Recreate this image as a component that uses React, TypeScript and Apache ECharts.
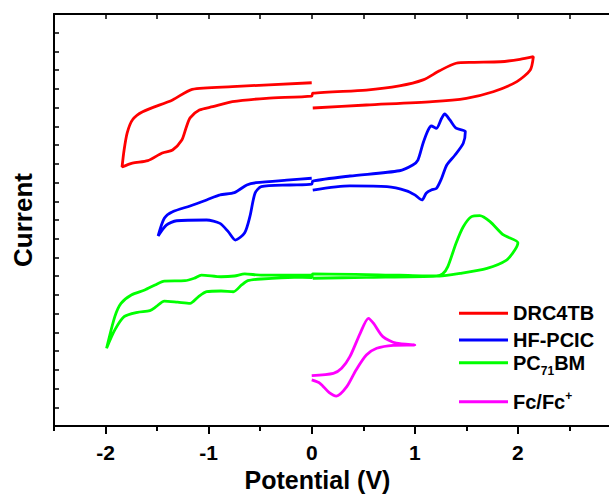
import React, { useEffect, useRef } from "react";
import * as echarts from "echarts";

// Potential (V) vs current (arbitrary units, in y-tick steps; curves are offset)
const xTickLabels = [-2, -1, 0, 1, 2];
const seriesNames = ["DRC4TB", "HF-PCIC", "PC71BM", "Fc/Fc+"];
const seriesColors = ["#ff0000", "#0000ff", "#00ff00", "#ff00ff"];

const drc4tb: [number, number][] = [
  [0.01, 16.98], [0.53, 17.14], [1.17, 17.32], [1.5, 17.5], [1.76, 17.85], [1.99, 18.39],
  [2.12, 19.01], [2.15, 19.72], [2.02, 19.58], [1.83, 19.45], [1.56, 19.42], [1.4, 19.37],
  [1.24, 18.97], [1.08, 18.48], [0.85, 18.16], [0.53, 17.94], [0.01, 17.77],
  [0.0, 17.62], [-0.44, 17.5], [-0.77, 17.32], [-0.96, 17.05], [-1.09, 16.87], [-1.18, 16.45],
  [-1.22, 15.9], [-1.26, 15.27], [-1.35, 14.74], [-1.45, 14.58], [-1.59, 14.17], [-1.74, 14.04],
  [-1.84, 13.83], [-1.82, 14.74], [-1.79, 15.65], [-1.74, 16.34], [-1.64, 16.78], [-1.35, 17.41],
  [-1.16, 17.98], [-0.77, 18.12], [0.0, 18.33],
];

const hfpcic: [number, number][] = [
  [0.01, 12.6], [0.37, 12.82], [0.73, 12.78], [0.92, 12.56], [1.0, 12.34], [1.07, 12.07],
  [1.11, 12.43], [1.16, 12.6], [1.21, 12.69], [1.26, 13.23], [1.31, 13.94], [1.39, 14.47],
  [1.47, 15.1], [1.49, 15.72], [1.4, 15.9], [1.34, 16.34], [1.29, 16.66], [1.26, 16.43],
  [1.21, 15.9], [1.16, 16.02], [1.13, 15.81], [1.08, 15.1], [1.03, 14.2], [0.98, 13.94],
  [0.85, 13.63], [0.37, 13.35], [0.01, 13.08],
  [0.0, 12.92], [-0.21, 12.87], [-0.49, 12.78], [-0.55, 12.43], [-0.6, 11.18], [-0.65, 10.32],
  [-0.74, 9.93], [-0.81, 10.38], [-0.89, 10.82], [-1.02, 11.0], [-1.31, 10.96], [-1.41, 10.73],
  [-1.49, 10.15], [-1.43, 11.09], [-1.35, 11.44], [-1.18, 11.75], [-1.02, 12.07], [-0.89, 12.34],
  [-0.75, 12.46], [-0.63, 12.87], [-0.54, 12.99], [-0.21, 13.14], [0.0, 13.23],
];

const pc71bm: [number, number][] = [
  [0.01, 7.89], [0.53, 7.94], [1.21, 8.01], [1.27, 8.12], [1.32, 8.51], [1.4, 9.76],
  [1.47, 10.64], [1.55, 11.18], [1.63, 11.23], [1.73, 10.91], [1.86, 10.2], [2.0, 9.79],
  [1.97, 9.4], [1.89, 8.86], [1.7, 8.42], [1.44, 8.15], [1.24, 8.01], [0.85, 8.05], [0.01, 8.12],
  [0.0, 7.93], [-0.17, 7.94], [-0.49, 7.85], [-0.62, 7.76], [-0.68, 7.53], [-0.76, 7.17],
  [-0.88, 7.21], [-1.02, 7.17], [-1.1, 6.9], [-1.18, 6.55], [-1.3, 6.61], [-1.43, 6.67],
  [-1.51, 6.37], [-1.57, 6.16], [-1.69, 6.07], [-1.82, 5.84], [-1.91, 5.13], [-1.99, 4.15],
  [-1.91, 5.84], [-1.85, 6.55], [-1.75, 7.0], [-1.62, 7.26], [-1.52, 7.53], [-1.43, 7.74],
  [-1.23, 7.76], [-1.14, 7.89], [-1.07, 8.06], [-0.88, 7.97], [-0.75, 8.01], [-0.65, 8.12],
  [-0.49, 8.06], [0.0, 8.06],
];

const fcfc: [number, number][] = [
  [0.0, 2.69], [0.21, 2.81], [0.29, 3.08], [0.37, 3.7], [0.47, 4.95], [0.55, 5.75],
  [0.6, 5.48], [0.69, 4.77], [0.82, 4.42], [1.0, 4.33], [0.79, 4.31], [0.63, 4.15],
  [0.53, 3.79], [0.43, 2.99], [0.34, 2.1], [0.24, 1.6], [0.17, 1.78], [0.08, 2.28], [0.0, 2.46],
];

const seriesData = [drc4tb, hfpcic, pc71bm, fcfc];
const legendCenters = [308.3, 335, 361.7, 396.7];

const FONT = "'Liberation Sans', Arial, Helvetica, sans-serif";

export default function App() {
  const ref = useRef<HTMLDivElement>(null);
  useEffect(() => {
    if (!ref.current) return;
    const chart = echarts.init(ref.current, undefined, { renderer: "svg" });
    const gridBox = { left: 54, top: 14, width: 567, height: 412, containLabel: false, outerBoundsMode: "none" };
    const legendText = (name: string) => {
      if (name === "PC71BM") return "{a|PC}{s|71}{a|BM}";
      if (name === "Fc/Fc+") return "{a|Fc/Fc}{p|+}";
      return "{a|" + name + "}";
    };
    const rich = {
      a: { fontSize: 20, fontWeight: "bold", color: "#000", fontFamily: FONT },
      s: { fontSize: 12, fontWeight: "bold", color: "#000", fontFamily: FONT, padding: [16, 0, 0, 0] },
      p: { fontSize: 12, fontWeight: "bold", color: "#000", fontFamily: FONT, padding: [0, 0, 12, 0] },
    };
    const legendHeights = [20, 20, 28, 24];
    chart.setOption({
      animation: false,
      backgroundColor: "#fff",
      grid: [{ ...gridBox }, { ...gridBox }],
      legend: seriesNames.map((n, i) => ({
        data: [n],
        left: 454,
        top: legendCenters[i] - legendHeights[i] / 2,
        icon: "rect",
        itemWidth: 49,
        itemHeight: 3,
        selectedMode: false,
        formatter: legendText,
        textStyle: { rich, fontSize: 20, fontWeight: "bold", color: "#000", fontFamily: FONT },
      })),
      xAxis: [
        {
          type: "value",
          gridIndex: 0,
          position: "bottom",
          min: -2.5,
          max: 3,
          interval: 0.5,
          axisLine: { show: true, onZero: false, lineStyle: { color: "#000", width: 2 } },
          axisTick: { show: true, inside: false, length: 8, lineStyle: { color: "#000", width: 2 }, customValues: xTickLabels },
          axisLabel: {
            customValues: xTickLabels,
            formatter: (v: number) => String(v),
            fontSize: 21,
            fontWeight: "bold",
            color: "#000",
            fontFamily: FONT,
            margin: 16,
          },
          splitLine: { show: false },
          name: "Potential (V)",
          nameLocation: "middle",
          nameGap: 38,
          nameTextStyle: { fontSize: 25, fontWeight: "bold", color: "#000", fontFamily: FONT, padding: [0, 40, 0, 0] },
        },
        {
          type: "value",
          gridIndex: 0,
          position: "top",
          min: -2.5,
          max: 3,
          interval: 0.5,
          axisLine: { show: true, onZero: false, lineStyle: { color: "#000", width: 2 } },
          axisTick: { show: true, inside: true, length: 5, lineStyle: { color: "#000", width: 1.5 } },
          axisLabel: { show: false },
          splitLine: { show: false },
        },
        {
          type: "value",
          gridIndex: 1,
          position: "bottom",
          min: -2.5,
          max: 3,
          interval: 0.5,
          axisLine: { show: false, onZero: false },
          axisTick: { show: true, inside: false, length: 5, lineStyle: { color: "#000", width: 2 } },
          axisLabel: { show: false },
          splitLine: { show: false },
        },
      ],
      yAxis: [
        {
          type: "value",
          gridIndex: 0,
          position: "left",
          min: 0,
          max: 22,
          interval: 1,
          axisLine: { show: true, onZero: false, lineStyle: { color: "#000", width: 2 } },
          axisTick: { show: true, inside: true, length: 5, lineStyle: { color: "#000", width: 1.5 } },
          axisLabel: { show: false },
          splitLine: { show: false },
          name: "Current",
          nameLocation: "middle",
          nameGap: 18,
          nameTextStyle: { fontSize: 26, fontWeight: "bold", color: "#000", fontFamily: FONT },
        },
        { type: "value", gridIndex: 1, min: 0, max: 22, show: false, axisLine: { onZero: false } },
      ],
      series: seriesNames.map((n, i) => ({
        name: n,
        type: "line",
        xAxisIndex: 0,
        yAxisIndex: 0,
        data: seriesData[i],
        showSymbol: false,
        symbol: "none",
        smooth: 0.25,
        color: seriesColors[i],
        lineStyle: { color: seriesColors[i], width: 2.8 },
      })),
    });
    return () => chart.dispose();
  }, []);
  return <div ref={ref} style={{ position: "fixed", left: 0, top: 0, width: 609, height: 494 }} />;
}
